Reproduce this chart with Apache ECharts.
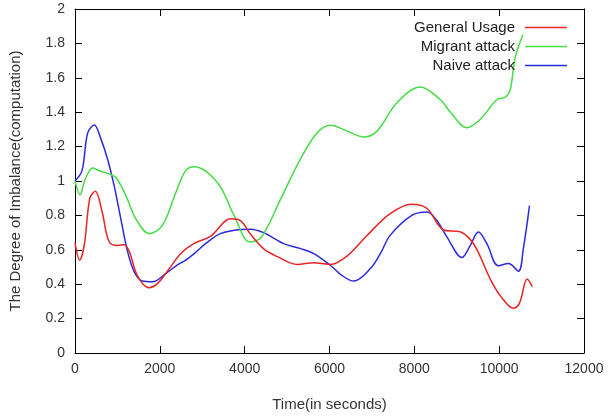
<!DOCTYPE html>
<html>
<head>
<meta charset="utf-8">
<script src="https://cdn.jsdelivr.net/npm/echarts@6/dist/echarts.min.js"></script>
<style>
html,body{margin:0;padding:0;background:#fff;}
#chart{width:608px;height:417px;}
</style>
</head>
<body>
<div id="chart"></div>
<script>
// ---- data ----
const seriesNames = ['General Usage', 'Migrant attack', 'Naive attack'];
const xTicks = [0, 2000, 4000, 6000, 8000, 10000, 12000];
const yTicks = [0, 0.2, 0.4, 0.6, 0.8, 1, 1.2, 1.4, 1.6, 1.8, 2];

const generalTime = [0, 110, 220, 350, 480, 640, 800, 1000, 1160, 1280, 1470, 1740, 1950, 2220, 2500, 2800, 3200, 3670, 3900, 4140, 4450, 4770, 5240, 5630, 6020, 6420, 6890, 7430, 7930, 8300, 8690, 9080, 9300, 9480, 9790, 10050, 10340, 10480, 10660, 10780];
const generalValue = [0.64, 0.54, 0.63, 0.90, 0.94, 0.82, 0.65, 0.625, 0.63, 0.59, 0.45, 0.38, 0.405, 0.49, 0.58, 0.636, 0.68, 0.78, 0.77, 0.69, 0.605, 0.56, 0.515, 0.525, 0.515, 0.565, 0.685, 0.81, 0.865, 0.84, 0.715, 0.705, 0.665, 0.60, 0.43, 0.325, 0.26, 0.29, 0.43, 0.385];

const migrantTime = [0, 120, 240, 420, 570, 810, 965, 1200, 1435, 1750, 2060, 2380, 2610, 2810, 3360, 3750, 4120, 4400, 4850, 5320, 5710, 6020, 6420, 6810, 7120, 7590, 8140, 8610, 8850, 9240, 9550, 9950, 10140, 10260, 10380, 10560];
const migrantValue = [1.0, 0.92, 1.01, 1.075, 1.06, 1.04, 1.02, 0.915, 0.78, 0.694, 0.742, 0.935, 1.06, 1.083, 0.99, 0.80, 0.645, 0.675, 0.896, 1.13, 1.28, 1.324, 1.29, 1.256, 1.29, 1.455, 1.547, 1.474, 1.40, 1.31, 1.358, 1.474, 1.487, 1.53, 1.72, 1.85];

const naiveTime = [0, 165, 300, 455, 610, 770, 925, 1080, 1240, 1400, 1590, 1830, 2140, 2400, 2610, 2810, 3100, 3430, 3900, 4140, 4450, 4920, 5320, 5630, 6020, 6300, 6570, 6960, 7200, 7430, 7940, 8300, 8530, 8770, 9120, 9320, 9510, 9710, 9980, 10220, 10455, 10570, 10715];
const naiveValue = [1.0, 1.06, 1.28, 1.325, 1.245, 1.125, 0.97, 0.78, 0.59, 0.47, 0.418, 0.414, 0.462, 0.51, 0.54, 0.578, 0.64, 0.694, 0.718, 0.72, 0.70, 0.636, 0.607, 0.578, 0.51, 0.45, 0.418, 0.49, 0.578, 0.684, 0.80, 0.82, 0.77, 0.674, 0.555, 0.626, 0.703, 0.636, 0.507, 0.52, 0.476, 0.607, 0.857];

// ---- build chart ----
const zip = (t, v) => t.map((x, i) => [x, v[i]]);
const colors = ['#e82424', '#44dd44', '#2a2ae0'];
const FONT = 'Liberation Sans, Arial, sans-serif';

const chart = echarts.init(document.getElementById('chart'));

function xAx(pos, showLabel) {
  return {
    type: 'value', position: pos, min: xTicks[0], max: xTicks[xTicks.length - 1],
    interval: xTicks[1] - xTicks[0],
    axisLine: { show: true, onZero: false, lineStyle: { color: '#000', width: 1 } },
    axisTick: { show: true, inside: true, length: 7, lineStyle: { color: '#000' } },
    axisLabel: { show: showLabel, fontSize: 14, color: '#333', fontFamily: FONT, margin: 9,
      formatter: v => String(Math.round(v)) },
    splitLine: { show: false },
    name: showLabel ? 'Time(in seconds)' : '',
    nameLocation: 'middle', nameGap: 44,
    nameTextStyle: { fontSize: 15, color: '#333', fontFamily: FONT }
  };
}
function yAx(pos, showLabel) {
  return {
    type: 'value', position: pos, min: yTicks[0], max: yTicks[yTicks.length - 1],
    interval: yTicks[1] - yTicks[0],
    axisLine: { show: true, onZero: false, lineStyle: { color: '#000', width: 1 } },
    axisTick: { show: true, inside: true, length: 7, lineStyle: { color: '#000' } },
    axisLabel: { show: showLabel, fontSize: 14, color: '#333', fontFamily: FONT, margin: 10,
      formatter: v => String(+v.toFixed(1)) },
    splitLine: { show: false },
    name: showLabel ? 'The Degree of Imbalance(computation)' : '',
    nameLocation: 'middle', nameGap: 52, nameRotate: 90,
    nameTextStyle: { fontSize: 15, color: '#333', fontFamily: FONT }
  };
}

function legendFor(i, top) {
  return {
    data: [{ name: seriesNames[i], icon: 'rect' }], right: 41, top: top, orient: 'vertical', align: 'right',
    itemWidth: 42, itemHeight: 1.5, padding: 0,
    textStyle: { fontSize: 15, color: '#222', fontFamily: FONT, padding: [0, 5, 0, 0] }
  };
}

const vals = [zip(generalTime, generalValue), zip(migrantTime, migrantValue), zip(naiveTime, naiveValue)];

chart.setOption({
  animation: false,
  backgroundColor: '#fff',
  grid: { left: 74, right: 24, top: 9, bottom: 62, containLabel: false },
  xAxis: [xAx('bottom', true), xAx('top', false)],
  yAxis: [yAx('left', true), yAx('right', false)],
  legend: [legendFor(0, 20), legendFor(1, 39), legendFor(2, 58)],
  series: seriesNames.map((n, i) => ({
    name: n, type: 'line', data: vals[i], xAxisIndex: 0, yAxisIndex: 0,
    smooth: 0.35, symbol: 'none', showSymbol: false,
    lineStyle: { color: colors[i], width: 1.5 }, itemStyle: { color: colors[i] },
    z: 3 - i
  }))
});
</script>
</body>
</html>
